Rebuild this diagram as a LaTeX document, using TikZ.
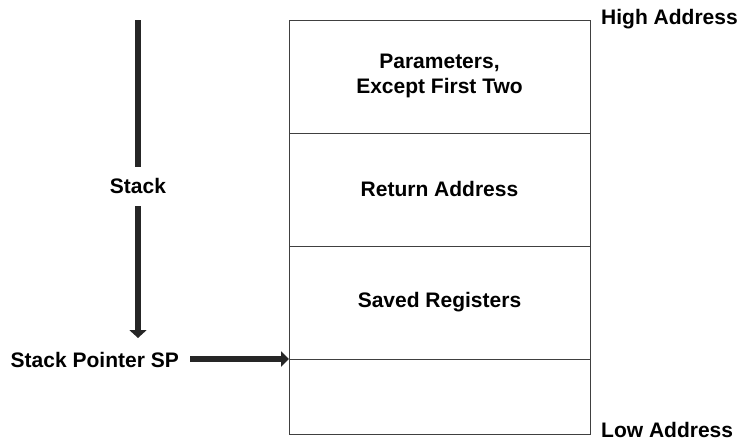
\documentclass[tikz,border=0pt]{standalone}
\usepackage{fontspec}
\setmainfont{Liberation Sans}
\usetikzlibrary{arrows.meta}
\begin{document}
\begin{tikzpicture}[x=1pt,y=-1pt,
  lbl/.style={font=\bfseries\fontsize{21}{25}\selectfont, inner sep=0pt, align=center},
  cell/.style={draw=black!75, line width=0.9pt, minimum width=301pt, inner sep=0pt, outer sep=0pt},
  fat/.style={draw=black!85, line width=5.5pt}]
\useasboundingbox (0,0) rectangle (741,442);
% memory cells
\node[cell, minimum height=113pt] (c1) at (439.5,76.5) {};
\node[cell, minimum height=113pt] (c2) at (439.5,189.5) {};
\node[cell, minimum height=113pt] (c3) at (439.5,302.5) {};
\node[cell, minimum height=75pt]  (c4) at (439.5,396.5) {};
\node[lbl] (t1) at (439.5,76) {Parameters,\\Except First Two};
\node[lbl] (t2) at (439.5,189) {Return Address};
\node[lbl] (t3) at (439.5,302) {Saved Registers};
\node[lbl, anchor=west] (hi) at (601,19) {High Address};
\node[lbl, anchor=west] (lo) at (601,430) {Low Address};
% stack arrow
\node[lbl] (stk) at (138,186) {Stack};
\coordinate (stop) at (138,20);
\coordinate (sa) at (138,167);
\coordinate (sb) at (138,206);
\coordinate (send) at (138,338);
\draw[fat] (stop) -- (sa);
\draw[fat, -{Triangle[width=17pt,length=8pt]}] (sb) -- (send);
% stack pointer
\node[lbl, anchor=east] (sp) at (179,360) {Stack Pointer SP};
\coordinate (spa) at (190,359);
\draw[fat, -{Triangle[width=15pt,length=8pt]}] (spa) -- (c4.north west);
\end{tikzpicture}
\end{document}
